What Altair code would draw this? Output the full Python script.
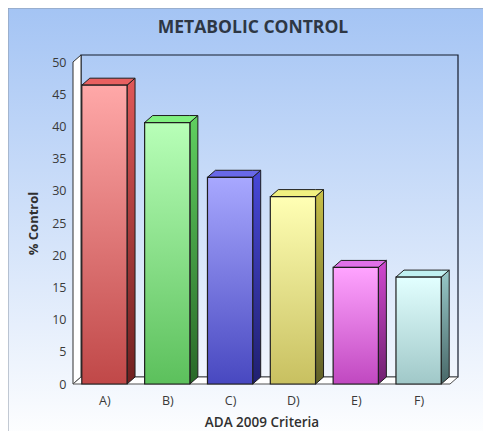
import json
import altair as alt
import pandas as pd

# ---- data ----
title_text = "METABOLIC CONTROL"
categories = ["A)", "B)", "C)", "D)", "E)", "F)"]
values = [46.4, 40.6, 32.1, 29.1, 18.1, 16.6]

# ---- styles ----
front_top = ["#ffa8a8", "#b8ffb8", "#a8a8ff", "#ffffb4", "#ffa4ff", "#e2ffff"]
front_bottom = ["#c04848", "#5cc05c", "#4848c0", "#c8c060", "#c048c0", "#a0c8c8"]
side_top = ["#e05858", "#60d060", "#4848d8", "#c8c048", "#d048d0", "#98c8c8"]
side_bottom = ["#702020", "#286828", "#202070", "#606028", "#702070", "#486868"]
top_fill = ["#e86060", "#80f080", "#6868e8", "#f0f080", "#e070e8", "#c0f0f0"]

W, H = 377, 322
N = len(categories)
YMAX = 50
DX = 8 * N / W          # 3D depth, x (8 px)
SY = 7 * YMAX / H       # 3D depth, y (7 px)
PAD = 0.14
FONT = "Open Sans"
EDGE = "#1e1e1e"

xs = alt.Scale(domain=[0, N], nice=False, zero=False)
ys = alt.Scale(domain=[0, YMAX], nice=False, zero=False)

xaxis = alt.Axis(values=[i + 0.5 for i in range(N)],
                 labelExpr=json.dumps(categories) + "[floor(datum.value)]",
                 domain=False, ticks=False, tickSize=0, grid=False, labelPadding=10,
                 labelFont=FONT, labelFontSize=12.5, labelColor="#3a3a3a",
                 title="ADA 2009 Criteria", titleFont=FONT, titleFontSize=13.5,
                 titleFontWeight=600, titleColor="#303030", titlePadding=9, zindex=2)
yaxis = alt.Axis(values=list(range(0, YMAX + 1, 5)), domain=False, ticks=False,
                 tickSize=0, grid=False, labelPadding=7, labelFont=FONT,
                 labelFontSize=12.5, labelColor="#3a3a3a",
                 title="% Control", titleFont=FONT, titleFontSize=13,
                 titleFontWeight="bold", titleColor="#303030", titlePadding=11, zindex=2)


def grad(c0, c1):
    return alt.Gradient(gradient="linear", x1=0, y1=0, x2=0, y2=1,
                        stops=[alt.GradientStop(offset=0, color=c0),
                               alt.GradientStop(offset=1, color=c1)])


def xq(field):
    return alt.X(field, type="quantitative", scale=xs, axis=xaxis)


def yq(field):
    return alt.Y(field, type="quantitative", scale=ys, axis=yaxis)


# background
bg = alt.Chart(pd.DataFrame({"a": [0]})).mark_rect(
    fill=grad("#a4c4f4", "#ffffff"), stroke="#8c98a8", strokeWidth=1
).encode(x=alt.value(-65), x2=alt.value(W + 60), y=alt.value(-54), y2=alt.value(H + 60))

title = alt.Chart(pd.DataFrame({"t": [title_text]})).mark_text(
    font=FONT, fontSize=17.5, fontWeight="bold", color="#2e3744",
    align="center", baseline="alphabetic"
).encode(x=alt.value(180), y=alt.value(-29), text="t:N")

# walls
left_wall = pd.DataFrame({"x": [0, DX], "lo": [0, SY], "hi": [YMAX, YMAX + SY]})
floor = pd.DataFrame({"x": [0, DX, N, N + DX], "lo": [0, 0, 0, SY],
                      "hi": [0, SY, SY, SY]})
back = pd.DataFrame({"x": [DX], "x2": [N + DX], "lo": [SY], "hi": [YMAX + SY]})

lw = alt.Chart(left_wall).mark_area(orient="vertical", fill="white", stroke="#303030",
                                    strokeWidth=1).encode(
    x=xq("x"), y=yq("lo"), y2="hi")
fl = alt.Chart(floor).mark_area(orient="vertical", fill="white", stroke="#505050",
                                strokeWidth=1).encode(
    x=xq("x"), y=yq("lo"), y2="hi")
bw = alt.Chart(back).mark_rect(fill=None, fillOpacity=0, stroke="#141c2c",
                               strokeWidth=1.2).encode(
    x=xq("x"), x2="x2", y=yq("lo"), y2="hi")

layers = [bg, title, bw, lw, fl]

for i, (cat, v) in enumerate(zip(categories, values)):
    L, R = i + PAD, i + 1 - PAD
    side = pd.DataFrame({"x": [R, R + DX], "lo": [0, SY], "hi": [v, v + SY]})
    top = pd.DataFrame({"x": [L, L + DX, R, R + DX], "lo": [v, v, v, v + SY],
                        "hi": [v, v + SY, v + SY, v + SY]})
    front = pd.DataFrame({"x": [L], "x2": [R], "lo": [0], "hi": [v], "cat": [cat]})
    layers.append(alt.Chart(side).mark_area(
        orient="vertical", fill=grad(side_top[i], side_bottom[i]), stroke=EDGE,
        strokeWidth=1).encode(x=xq("x"), y=yq("lo"), y2="hi"))
    layers.append(alt.Chart(top).mark_area(
        orient="vertical", fill=top_fill[i], stroke=EDGE, strokeWidth=1).encode(
        x=xq("x"), y=yq("lo"), y2="hi"))
    layers.append(alt.Chart(front).mark_rect(
        fill=grad(front_top[i], front_bottom[i]), stroke=EDGE, strokeWidth=1.2).encode(
        x=xq("x"), x2="x2", y=yq("lo"), y2="hi"))

chart = alt.layer(*layers).properties(
    width=W, height=H,
    autosize=alt.AutoSizeParams(type="none"),
    padding={"left": 65, "top": 54, "right": 33, "bottom": 47},
).configure_view(stroke=None)

chart.save("out.html", embed_options={"renderer": "svg", "actions": False})
